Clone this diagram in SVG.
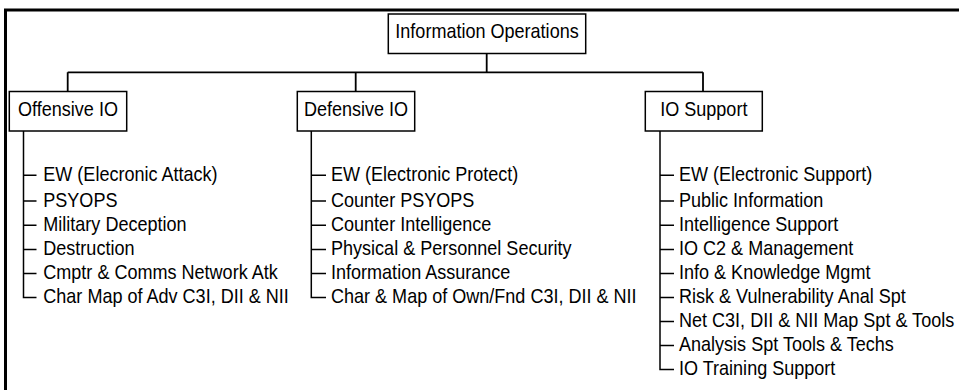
<svg xmlns="http://www.w3.org/2000/svg" width="959" height="390" viewBox="0 0 959 390">
<style>
.t{font-family:"Liberation Sans",Arial,sans-serif;font-size:20.5px;fill:#000}
.m{text-anchor:middle}
.box{fill:#fff;stroke:#000;stroke-width:1.5}
.ln{fill:none;stroke:#000;stroke-width:1.5}
.frame{fill:none;stroke:#000;stroke-width:3}
</style>
<rect width="959" height="390" fill="#fff"/>
<rect class="frame" x="5.5" y="10" width="1000" height="420"/>
<g id="connectors">
<path class="ln" d="M486.7 53.5V72.3M67.7 72.3H703M67.7 72.3V91.5M355.7 72.3V91.5M703 72.3V91.5" style="stroke-width:1.8"/>
<path class="ln" d="M23.5 131V297.5H36.5M23.5 175.3H36.5M23.5 201H36.5M23.5 225.2H36.5M23.5 249.5H36.5M23.5 273.5H36.5"/>
<path class="ln" d="M311.3 131V297.5H326M311.3 175.3H326M311.3 201H326M311.3 225.2H326M311.3 249.5H326M311.3 273.5H326"/>
<path class="ln" d="M660 131V369.5H674M660 175.3H674M660 201H674M660 225.2H674M660 249.5H674M660 273.5H674M660 297.5H674M660 321.5H674M660 345.5H674"/>
</g>
<g id="root">
<rect class="box" x="388.3" y="14" width="197.4" height="39.5"/>
<text class="t m" transform="translate(487 37.7) scale(0.88 1)">Information Operations</text>
</g>
<g id="offensive">
<rect class="box" x="9.3" y="91.5" width="117.4" height="39.5"/>
<text class="t m" transform="translate(68 115.7) scale(0.88 1)">Offensive IO</text>
<text class="t" transform="translate(43.3 180.7) scale(0.88 1)">EW (Elecronic Attack)</text>
<text class="t" transform="translate(43.3 206.5) scale(0.88 1)">PSYOPS</text>
<text class="t" transform="translate(43.3 230.7) scale(0.88 1)">Military Deception</text>
<text class="t" transform="translate(43.3 255) scale(0.88 1)">Destruction</text>
<text class="t" transform="translate(43.3 279) scale(0.88 1)">Cmptr &amp; Comms Network Atk</text>
<text class="t" transform="translate(43.3 303) scale(0.88 1)">Char Map of Adv C3I, DII &amp; NII</text>
</g>
<g id="defensive">
<rect class="box" x="297.3" y="91.5" width="117.4" height="39.5"/>
<text class="t m" transform="translate(356 115.7) scale(0.88 1)">Defensive IO</text>
<text class="t" transform="translate(331 180.7) scale(0.88 1)">EW (Electronic Protect)</text>
<text class="t" transform="translate(331 206.5) scale(0.88 1)">Counter PSYOPS</text>
<text class="t" transform="translate(331 230.7) scale(0.88 1)">Counter Intelligence</text>
<text class="t" transform="translate(331 255) scale(0.88 1)">Physical &amp; Personnel Security</text>
<text class="t" transform="translate(331 279) scale(0.88 1)">Information Assurance</text>
<text class="t" transform="translate(331 303) scale(0.88 1)">Char &amp; Map of Own/Fnd C3I, DII &amp; NII</text>
</g>
<g id="support">
<rect class="box" x="645.3" y="91.5" width="117" height="39.5"/>
<text class="t m" transform="translate(703.8 115.7) scale(0.88 1)">IO Support</text>
<text class="t" transform="translate(679 180.7) scale(0.88 1)">EW (Electronic Support)</text>
<text class="t" transform="translate(679 206.5) scale(0.88 1)">Public Information</text>
<text class="t" transform="translate(679 230.7) scale(0.88 1)">Intelligence Support</text>
<text class="t" transform="translate(679 255) scale(0.88 1)">IO C2 &amp; Management</text>
<text class="t" transform="translate(679 279) scale(0.88 1)">Info &amp; Knowledge Mgmt</text>
<text class="t" transform="translate(679 303) scale(0.88 1)">Risk &amp; Vulnerability Anal Spt</text>
<text class="t" transform="translate(679 327) scale(0.88 1)">Net C3I, DII &amp; NII Map Spt &amp; Tools</text>
<text class="t" transform="translate(679 351) scale(0.88 1)">Analysis Spt Tools &amp; Techs</text>
<text class="t" transform="translate(679 375) scale(0.88 1)">IO Training Support</text>
</g>
</svg>
